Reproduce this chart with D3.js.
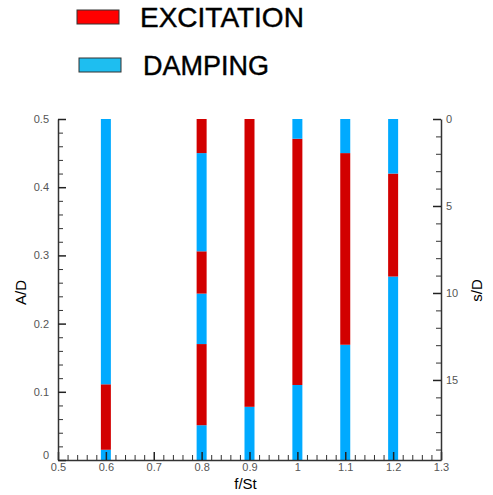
<!DOCTYPE html>
<html>
<head>
<meta charset="utf-8">
<script src="https://cdn.jsdelivr.net/npm/d3@7"></script>
<style>
  body { margin: 0; background: #fff; }
  svg text { font-family: "Liberation Sans", Arial, sans-serif; }
</style>
</head>
<body>
<div id="chart"></div>
<script>
// frequencies (f/St) of each tested column
var freqs = [0.6, 0.8, 0.9, 1.0, 1.1, 1.2];
// segment boundaries in A/D, bottom to top, per column
var bounds = [
  [0, 0.015, 0.111, 0.5],
  [0, 0.051, 0.170, 0.244, 0.306, 0.450, 0.5],
  [0, 0.078, 0.5],
  [0, 0.110, 0.471, 0.5],
  [0, 0.169, 0.450, 0.5],
  [0, 0.269, 0.420, 0.5]
];
// segment type, bottom to top: D = damping, E = excitation
var kinds = [
  ['D', 'E', 'D'],
  ['D', 'E', 'D', 'E', 'D', 'E'],
  ['D', 'E'],
  ['D', 'E', 'D'],
  ['D', 'E', 'D'],
  ['D', 'E', 'D']
];
var legendLabels = ['EXCITATION', 'DAMPING'];
var xTicks = [0.5, 0.6, 0.7, 0.8, 0.9, 1, 1.1, 1.2, 1.3];
var yTicks = [0, 0.1, 0.2, 0.3, 0.4, 0.5];
var sTicks = [0, 5, 10, 15];

var width = 493, height = 495;
var margin = { top: 119, right: 52, bottom: 35, left: 58 };
var w = width - margin.left - margin.right;
var h = height - margin.top - margin.bottom;

var barColor = { E: '#d20000', D: '#00aaff' };
var legendColor = ['#ff0000', '#1ebef0'];

var svg = d3.select('#chart').append('svg')
  .attr('width', width)
  .attr('height', height);

// legend
legendLabels.forEach(function(lab, i) {
  var y0 = 10 + i * 48;
  svg.append('rect')
    .attr('x', 77 + i * 2).attr('y', y0)
    .attr('width', 42).attr('height', 14)
    .attr('fill', legendColor[i])
    .attr('stroke', '#333').attr('stroke-width', 1);
  svg.append('text')
    .attr('x', 140 + i * 3).attr('y', y0 + 17)
    .attr('font-size', i === 0 ? 28 : 27)
    .attr('fill', '#000')
    .attr('stroke', '#000').attr('stroke-width', 0.4)
    .text(lab);
});

var g = svg.append('g')
  .attr('transform', 'translate(' + margin.left + ',' + margin.top + ')');

var xScale = d3.scaleLinear().domain([0.5, 1.3]).range([0, w]);
var yScale = d3.scaleLinear().domain([0, 0.5]).range([h, 0]);
var sScale = d3.scaleLinear().domain([0, 19.6]).range([0, h]);

// bars
var barW = 10;
freqs.forEach(function(f, i) {
  var b = bounds[i];
  for (var k = 0; k < kinds[i].length; k++) {
    g.append('rect')
      .attr('x', xScale(f) - barW / 2)
      .attr('y', yScale(b[k + 1]))
      .attr('width', barW)
      .attr('height', yScale(b[k]) - yScale(b[k + 1]))
      .attr('fill', barColor[kinds[i][k]]);
  }
});

function styleAxis(sel) {
  sel.select('.domain').attr('stroke', '#333').attr('stroke-width', 1.5);
  sel.selectAll('.tick line').attr('stroke', '#222').attr('stroke-width', 1.5);
  sel.selectAll('.tick text').attr('fill', '#555').attr('font-size', 11)
    .attr('font-family', '"Liberation Sans", Arial, sans-serif');
}

// minor ticks
var xMinor = d3.range(0.52, 1.3, 0.02).filter(function(v) { return Math.abs(v * 10 - Math.round(v * 10)) > 0.01; });
var yMinor = d3.range(0.02, 0.5, 0.02).filter(function(v) { return Math.abs(v * 10 - Math.round(v * 10)) > 0.01; });
var sMinor = d3.range(1, 19.6, 1).filter(function(v) { return v % 5 !== 0; });

g.append('g').attr('transform', 'translate(0,' + h + ')')
  .call(d3.axisTop(xScale).tickValues(xMinor).tickSize(5).tickFormat('').tickSizeOuter(0))
  .call(function(s) { s.select('.domain').remove(); s.selectAll('line').attr('stroke', '#333'); });
g.append('g')
  .call(d3.axisRight(yScale).tickValues(yMinor).tickSize(5).tickFormat('').tickSizeOuter(0))
  .call(function(s) { s.select('.domain').remove(); s.selectAll('line').attr('stroke', '#333'); });
g.append('g').attr('transform', 'translate(' + w + ',0)')
  .call(d3.axisLeft(sScale).tickValues(sMinor).tickSize(5).tickFormat('').tickSizeOuter(0))
  .call(function(s) { s.select('.domain').remove(); s.selectAll('line').attr('stroke', '#333'); });

// bottom axis, ticks inside
g.append('g').attr('transform', 'translate(0,' + h + ')')
  .call(d3.axisBottom(xScale).tickValues(xTicks).tickSizeInner(-8).tickSizeOuter(0)
    .tickPadding(3).tickFormat(d3.format('')))
  .call(styleAxis);

// left axis
g.append('g')
  .call(d3.axisLeft(yScale).tickValues(yTicks).tickSizeInner(-8).tickSizeOuter(0)
    .tickPadding(9).tickFormat(function(d) { return d === 0 ? '0' : d3.format('.1f')(d); }))
  .call(styleAxis)
  .call(function(s) {
    // the "0" sits a little above the corner in the reference
    s.selectAll('.tick text').filter(function(d) { return d === 0; }).attr('dy', '-0.1em');
  });

// right axis (s/D, increasing downward)
g.append('g').attr('transform', 'translate(' + w + ',0)')
  .call(d3.axisRight(sScale).tickValues(sTicks).tickSizeInner(-8).tickSizeOuter(0).tickPadding(5))
  .call(styleAxis);

// axis titles
svg.append('text')
  .attr('x', margin.left + w / 2 - 4).attr('y', 489)
  .attr('text-anchor', 'middle').attr('font-size', 15)
  .text('f/St');
svg.append('text')
  .attr('transform', 'translate(26,' + (margin.top + h / 2 + 3) + ') rotate(-90)')
  .attr('text-anchor', 'middle').attr('font-size', 15)
  .text('A/D');
svg.append('text')
  .attr('transform', 'translate(482,' + (margin.top + h / 2 + 1) + ') rotate(-90)')
  .attr('text-anchor', 'middle').attr('font-size', 15)
  .text('s/D');
</script>
</body>
</html>
